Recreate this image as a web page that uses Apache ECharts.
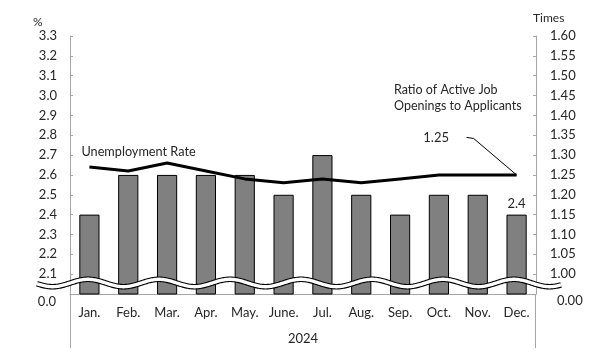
<!DOCTYPE html>
<html><head><meta charset="utf-8">
<script src="https://cdn.jsdelivr.net/npm/echarts@6/dist/echarts.min.js"></script>
<style>html,body{margin:0;padding:0;background:#fff}#c{width:608px;height:358px}</style>
</head><body><div id="c"></div>
<script>
const months = ['Jan.','Feb.','Mar.','Apr.','May.','June.','Jul.','Aug.','Sep.','Oct.','Nov.','Dec.'];
const yearLabel = '2024';
const unemploymentRate = [2.4,2.6,2.6,2.6,2.6,2.5,2.7,2.5,2.4,2.5,2.5,2.4];
const jobRatio = [1.27,1.26,1.28,1.26,1.24,1.23,1.24,1.23,1.24,1.25,1.25,1.25];
const leftAxisName = '%';
const rightAxisName = 'Times';
const leftBreakLabel = '0.0';
const rightBreakLabel = '0.00';
const lineName = 'Unemployment Rate';
const ratioName = ['Ratio of Active Job', 'Openings to Applicants'];

const FONT = 'Lato';
const TXT = '#262626';
const AX = '#a6a6a6';
const chart = echarts.init(document.getElementById('c'), null, {renderer:'canvas'});
const last = months.length - 1;

chart.setOption({
  animation:false,
  textStyle:{fontFamily:FONT, color:TXT},
  grid:{left:70, right:72, top:36, bottom:64, containLabel:false},
  xAxis:{type:'category', data:months,
    axisLine:{lineStyle:{color:AX, width:1}}, axisTick:{show:false},
    axisLabel:{color:TXT, fontFamily:FONT, fontSize:13, margin:12}},
  yAxis:[
    {type:'value', min:2.0, max:3.3, interval:0.1, splitLine:{show:false},
     axisLine:{show:true, lineStyle:{color:AX}}, axisTick:{show:true, inside:true, length:3, lineStyle:{color:AX}},
     axisLabel:{color:TXT, fontFamily:FONT, fontSize:13, margin:13,
       formatter:v => v < 2.05 ? '' : v.toFixed(1)}},
    {type:'value', min:0.95, max:1.60, interval:0.05, splitLine:{show:false}, position:'right',
     axisLine:{show:true, lineStyle:{color:AX}}, axisTick:{show:true, inside:true, length:3, lineStyle:{color:AX}},
     axisLabel:{color:TXT, fontFamily:FONT, fontSize:13, margin:14,
       formatter:v => v < 0.975 ? '' : v.toFixed(2)}}
  ],
  series:[
    {type:'bar', yAxisIndex:0, barWidth:'52%', z:2,
     itemStyle:{color:'#808080', borderColor:'#000', borderWidth:1},
     data:unemploymentRate.map((v,i)=> i===last ? {value:v, label:{show:true, position:'top', distance:4, color:TXT, fontFamily:FONT, fontSize:13, formatter:p=>p.value.toFixed(1)}} : v)},
    {type:'line', yAxisIndex:1, z:3, showSymbol:false, symbol:'none',
     lineStyle:{color:'#000', width:3}, data:jobRatio}
  ]
});

function px(i, v, axis){
  const x = chart.convertToPixel({xAxisIndex:0}, i);
  const y = chart.convertToPixel({yAxisIndex:axis}, v);
  return [x,y];
}
const baseY = chart.convertToPixel({yAxisIndex:0}, 2.0);
const topY = chart.convertToPixel({yAxisIndex:0}, 3.3);
const xl = 70, xr = 608-72;
const wy = baseY - 11;
const pts = [];
for(let x=37; x<=561; x+=1){ pts.push([x, wy - 3.7*Math.cos(2*Math.PI*(x-88)/71)]); }
const dec = px(last, jobRatio[last], 1);
const jan = px(0, jobRatio[0], 1);

chart.setOption({graphic:[
  {type:'line', shape:{x1:xl+0.5,y1:baseY,x2:xl+0.5,y2:348}, style:{stroke:AX, lineWidth:1}},
  {type:'line', shape:{x1:xr-0.5,y1:baseY,x2:xr-0.5,y2:348}, style:{stroke:AX, lineWidth:1}},
  {type:'polyline', z:100, shape:{points:pts}, style:{stroke:'#000', lineWidth:5.6, fill:null}},
  {type:'polyline', z:101, shape:{points:pts}, style:{stroke:'#fff', lineWidth:3.4, fill:null}},
  {type:'text', z:110, style:{text:leftBreakLabel, x:56, y:baseY+8, align:'right', verticalAlign:'middle', font:'13px '+FONT, fill:TXT}},
  {type:'text', z:110, style:{text:rightBreakLabel, x:557, y:baseY+7, align:'left', verticalAlign:'middle', font:'13px '+FONT, fill:TXT}},
  {type:'text', style:{text:leftAxisName, x:33, y:topY-14, align:'left', verticalAlign:'middle', font:'12px '+FONT, fill:TXT}},
  {type:'text', style:{text:rightAxisName, x:533, y:topY-18, align:'left', verticalAlign:'middle', font:'12px '+FONT, fill:TXT}},
  {type:'text', style:{text:lineName, x:jan[0]-8, y:jan[1]-15, align:'left', verticalAlign:'middle', font:'12.7px '+FONT, fill:TXT}},
  {type:'text', style:{text:ratioName[0], x:394, y:90, align:'left', verticalAlign:'middle', font:'12.5px '+FONT, fill:TXT}},
  {type:'text', style:{text:ratioName[1], x:394, y:106, align:'left', verticalAlign:'middle', font:'12.5px '+FONT, fill:TXT}},
  {type:'text', style:{text:jobRatio[last].toFixed(2), x:449, y:dec[1]-37, align:'right', verticalAlign:'middle', font:'13px '+FONT, fill:TXT}},
  {type:'polyline', shape:{points:[[dec[0],dec[1]],[dec[0]-43,dec[1]-36.5],[dec[0]-50,dec[1]-37.5]]}, style:{stroke:'#000', lineWidth:1, fill:null}},
  {type:'text', style:{text:yearLabel, x:(xl+xr)/2, y:339, align:'center', verticalAlign:'middle', font:'13px '+FONT, fill:TXT}}
]});
</script></body></html>
